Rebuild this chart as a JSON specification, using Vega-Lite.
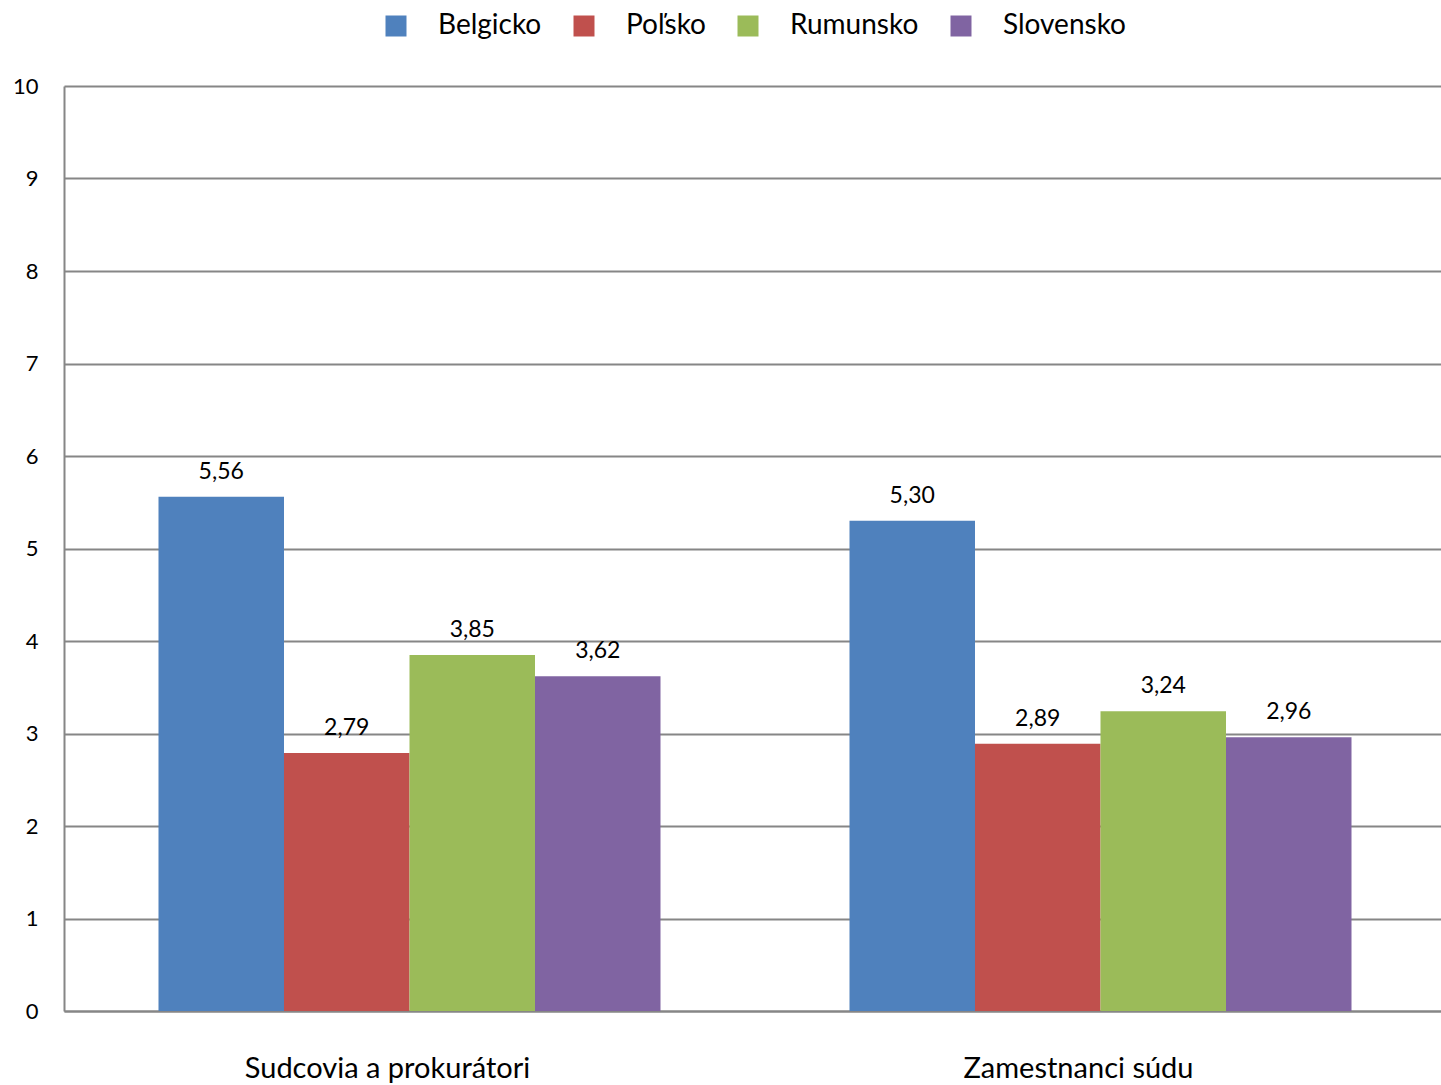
{
  "$schema": "https://vega.github.io/schema/vega-lite/v6.json",
  "autosize": "none",
  "width": 1382,
  "height": 925,
  "padding": {"left": 64, "top": 86, "right": 0, "bottom": 74},
  "background": "white",
  "config": {
    "font": "Lato",
    "view": {"stroke": null},
    "locale": {"number": {"decimal": ",", "thousands": " ", "grouping": [3], "currency": ["", " €"]}}
  },
  "data": {
    "values": [
      {"group": "Sudcovia a prokurátori", "country": "Belgicko", "value": 5.56},
      {"group": "Sudcovia a prokurátori", "country": "Poľsko", "value": 2.79},
      {"group": "Sudcovia a prokurátori", "country": "Rumunsko", "value": 3.85},
      {"group": "Sudcovia a prokurátori", "country": "Slovensko", "value": 3.62},
      {"group": "Zamestnanci  súdu", "country": "Belgicko", "value": 5.30},
      {"group": "Zamestnanci  súdu", "country": "Poľsko", "value": 2.89},
      {"group": "Zamestnanci  súdu", "country": "Rumunsko", "value": 3.24},
      {"group": "Zamestnanci  súdu", "country": "Slovensko", "value": 2.96}
    ]
  },
  "encoding": {
    "x": {
      "field": "group", "type": "nominal", "sort": null,
      "scale": {"paddingInner": 0.2735, "paddingOuter": 0.13675},
      "axis": {"title": null, "labelAngle": 0, "labelFontSize": 29, "labelColor": "#000", "labelPadding": 43, "labelOffset": -22, "labelLimit": 600, "ticks": false, "domain": true, "domainColor": "#868686", "domainWidth": 2, "labelFont": "Lato"}
    },
    "xOffset": {"field": "country", "type": "nominal", "sort": null, "scale": {"paddingInner": 0, "paddingOuter": 0}},
    "y": {
      "field": "value", "type": "quantitative",
      "scale": {"domain": [0, 10], "nice": false},
      "axis": {"title": null, "values": [0,1,2,3,4,5,6,7,8,9,10], "format": "d", "labelFontSize": 22, "labelColor": "#000", "labelPadding": 26, "ticks": false, "domainColor": "#868686", "domainWidth": 2, "gridColor": "#868686", "gridWidth": 2, "labelFont": "Lato"}
    }
  },
  "layer": [
    {
      "mark": {"type": "bar"},
      "encoding": {
        "color": {
          "field": "country", "type": "nominal", "sort": null,
          "scale": {"domain": ["Belgicko", "Poľsko", "Rumunsko", "Slovensko"], "range": ["#4F81BD", "#C0504D", "#9BBB59", "#8064A2"]},
          "legend": {
            "title": null, "orient": "none", "direction": "horizontal",
            "legendX": 318, "legendY": -74,
            "symbolType": "square", "symbolSize": 441, "symbolStrokeWidth": 0,
            "labelFontSize": 28, "labelColor": "#000", "labelOffset": 28,
            "columnPadding": 28, "labelFont": "Lato", "labelLimit": 300
          }
        }
      }
    },
    {
      "mark": {"type": "text", "baseline": "bottom", "dy": -13, "fontSize": 23, "color": "#000"},
      "encoding": {
        "text": {"field": "value", "type": "quantitative", "format": ".2f"}
      }
    }
  ]
}
